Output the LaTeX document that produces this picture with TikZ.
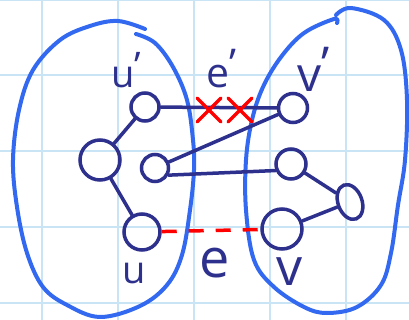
\documentclass[tikz,border=0pt]{standalone}
\usepackage{fontspec}
\setmainfont{Open Sans}
\usetikzlibrary{shapes.geometric}
\definecolor{navy}{RGB}{45,48,140}
\definecolor{blobc}{RGB}{50,105,240}
\definecolor{gridc}{RGB}{200,228,245}
\definecolor{xred}{RGB}{255,0,0}
\newcommand{\hprime}{\raisebox{0.22em}{'}}
\begin{document}
\begin{tikzpicture}[x=1pt,y=-1pt,
  vtx/.style={circle,draw=navy,line width=3.5pt,inner sep=0pt},
  edge/.style={draw=navy,line width=3.5pt,line cap=round},
  lbl/.style={text=navy,inner sep=0pt,anchor=base west},
  blobline/.style={draw=blobc,line width=4pt,line cap=round,line join=round},
  cross/.style={draw=xred,line width=3.5pt,line cap=round},
  cutedge/.style={draw=xred,line width=3.5pt,dash pattern=on 15pt off 12pt},
  gridline/.style={draw=gridc,line width=2pt}]
\fill[white] (0,0) rectangle (409,320);
\useasboundingbox (0,0) rectangle (409,320);
\foreach \x in {42,118,194,270,346} \draw[gridline] (\x,0) -- (\x,320);
\foreach \y in {0,75,151,227,303} \draw[gridline] (0,\y) -- (409,\y);
% blobs
\draw[blobline] plot[smooth,tension=0.6] coordinates {(136,34) (155,43) (173,67) (187,100) (193,140) (194,170) (190,210) (182,255) (167,285) (140,306) (100,317) (67,305) (43,287) (27,253) (17,207) (13,160) (19,110) (33,70) (60,40) (90,26) (118,21) (145,29)};
\draw[blobline] plot[smooth,tension=0.6] coordinates {(336,15) (351,8) (384,20) (401,50) (407,100) (405,160) (398,205) (391,253) (381,285) (357,307) (327,313) (304,307) (274,287) (254,260) (246,210) (246,160) (252,120) (263,87) (281,57) (304,33) (334,19) (337,23)};
% vertices
\node[vtx,minimum size=28pt] (up) at (145,107) {};
\node[vtx,minimum size=40pt] (a) at (100,160) {};
\node[vtx,minimum size=27pt] (b) at (155,168) {};
\node[vtx,minimum size=36pt] (u) at (142,232) {};
\node[vtx,minimum size=29pt] (vp) at (293,108) {};
\node[vtx,minimum size=30pt] (c) at (291,164) {};
\node[ellipse,draw=navy,line width=3.5pt,inner sep=0pt,minimum width=24pt,minimum height=36pt,rotate=20] (d) at (350,202) {};
\node[vtx,minimum size=40pt] (v) at (282,229) {};
% edges
\draw[edge] (up) -- (a);
\draw[edge] (up) -- (vp);
\draw[edge] (b) -- (vp);
\draw[edge] (b.-28) -- (c.203);
\draw[edge] (c) -- (d);
\draw[edge] (d) -- (v);
\draw[edge] (a) -- (u);
\draw[cutedge] (u) -- (v);
% crosses
\coordinate (x1) at (209,110);
\coordinate (x2) at (240,110);
\foreach \p in {x1,x2} {
  \draw[cross] ([shift={(-12,-12)}]\p) -- ([shift={(12,12)}]\p);
  \draw[cross] ([shift={(-12,12)}]\p) -- ([shift={(12,-12)}]\p);
}
% labels
\node[lbl,font=\fontsize{38}{38}\selectfont] (lup) at (111,88) {u\hprime};
\node[lbl,font=\fontsize{41}{41}\selectfont] (lep) at (206,88) {e\hprime};
\node[lbl,font=\fontsize{48}{48}\selectfont] (lvp) at (297,92) {v\hprime};
\node[lbl,font=\fontsize{38}{38}\selectfont] (lu) at (122,283) {u};
\node[lbl,font=\fontsize{54}{54}\selectfont] (le) at (199,277) {e};
\node[lbl,font=\fontsize{52}{52}\selectfont] (lv) at (276,285) {v};
\end{tikzpicture}
\end{document}
